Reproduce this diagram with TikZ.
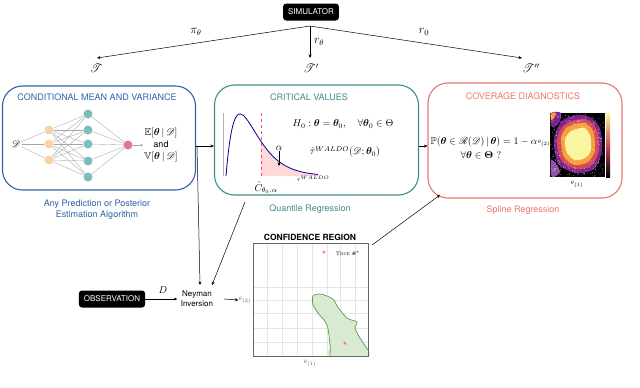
\documentclass[tikz,border=0pt]{standalone}
\usepackage{amsmath,amssymb,mathrsfs,bm}
\usepackage{fontspec}
\setsansfont{TeX Gyre Heros}
\usetikzlibrary{arrows.meta}
\definecolor{cblue}{HTML}{2F63A6}
\definecolor{cteal}{HTML}{3F8C8C}
\definecolor{csalmon}{HTML}{E9766C}
\definecolor{norange}{HTML}{F9D4A3}
\definecolor{nteal}{HTML}{7DBDBA}
\definecolor{npink}{HTML}{D47C98}
\definecolor{rgreen}{HTML}{D8EAD2}
\definecolor{rgreenl}{HTML}{5A9E48}
\definecolor{infY}{HTML}{FCF5A0}
\definecolor{infO}{HTML}{F5A03A}
\definecolor{infR}{HTML}{D4485A}
\definecolor{infP}{HTML}{7A2490}
\definecolor{infD}{HTML}{1A0A30}
\tikzset{
  arr/.style={-{Stealth[length=3.5pt,width=3pt]}, line width=0.5pt},
  blackbox/.style={fill=black, text=white, rounded corners=3pt, font=\sffamily\fontsize{8}{9}\selectfont, inner xsep=5pt, minimum height=17pt},
  bigbox/.style={draw, rounded corners=20pt, line width=1.1pt},
  boxtitle/.style={font=\sffamily\fontsize{9}{10}\selectfont},
  sub/.style={font=\sffamily\fontsize{9}{11}\selectfont, align=center},
  mth/.style={font=\fontsize{10}{11}\selectfont, inner sep=1pt},
  lbl/.style={font=\fontsize{12}{13}\selectfont, inner sep=1pt},
  nn/.style={circle, minimum size=9pt, inner sep=0pt},
  nnl/.style={gray!70, line width=0.35pt},
  grid/.style={gray!20, line width=0.4pt}
}
\begin{document}
\begin{tikzpicture}[x=1pt,y=-1pt]
\useasboundingbox (0,0) rectangle (640,388);
% simulator
\node[blackbox] (sim) at (311,12) {SIMULATOR};
\coordinate (s0) at (310,26);
\node[lbl] (T1) at (96,68) {$\mathscr{T}$};
\node[lbl] (T2) at (311,68) {$\mathscr{T}'$};
\node[lbl] (T3) at (531,68) {$\mathscr{T}''$};
\coordinate (t1) at (97,58);
\coordinate (t2) at (310,58);
\coordinate (t3) at (522,58);
\draw[arr] (s0) -- (t1);
\draw[arr] (s0) -- (t2);
\draw[arr] (s0) -- (t3);
\node[lbl] (pi) at (196,32) {$\pi_\theta$};
\node[lbl] (rt) at (319,42) {$r_\theta$};
\node[lbl] (r0) at (424,32) {$r_0$};

% box 1
\node[bigbox, draw=cblue, minimum width=193pt, minimum height=104pt] (b1) at (99,138) {};
\node[boxtitle, text=cblue] (b1t) at (97,97) {CONDITIONAL MEAN AND VARIANCE};
\node[sub, text=cblue] (b1s) at (97,210) {Any Prediction or Posterior\\Estimation Algorithm};
\node[mth] (D) at (16,144) {$\mathscr{D}$};
\foreach \i/\y in {1/130,2/144,3/160} \node[nn, fill=norange] (i\i) at (49,\y) {};
\foreach \i/\y in {1/114,2/130,3/144,4/161,5/177} \node[nn, fill=nteal] (h\i) at (88,\y) {};
\node[nn, fill=npink] (o) at (128,145) {};
\foreach \i in {1,2,3} {
  \draw[nnl] (D) -- (i\i);
  \foreach \j in {1,...,5} \draw[nnl] (i\i) -- (h\j);
}
\foreach \j in {1,...,5} \draw[nnl] (h\j) -- (o);
\node[mth, align=center] (ev) at (161,145) {$\mathbb{E}[\bm{\theta}\,|\,\mathscr{D}]$\\[1pt]{\sffamily\fontsize{9}{10}\selectfont and}\\[1pt]$\mathbb{V}[\bm{\theta}\,|\,\mathscr{D}]$};
\draw[nnl, -{Stealth[length=2.5pt,width=2.5pt]}] (o) -- (ev.west);

% box 2
\node[bigbox, draw=cteal, minimum width=204pt, minimum height=110pt] (b2) at (316.5,140) {};
\node[boxtitle, text=cteal] (b2t) at (309,97) {CRITICAL VALUES};
\node[sub, text=cteal] (b2s) at (310,209) {Quantile Regression};
\fill[red!15] (261,176) -- plot[domain=261:318, samples=40] (\x, {176-168.5*((\x-226)/14)*exp(-(\x-226)/14)}) -- (318,176) -- cycle;
\draw[gray!60, line width=1pt] (223,113) -- (223,176);
\draw[blue!60!black, line width=0.8pt] plot[domain=226:318, samples=80, smooth] (\x, {176-168.5*((\x-226)/14)*exp(-(\x-226)/14)});
\draw[red!70, dashed, line width=0.6pt] (261,113) -- (261,176);
\node[mth] (al) at (279,148) {$\alpha$};
\coordinate (alt) at (279,166);
\draw[arr] (al) -- (alt);
\node[mth] (C) at (266,188) {$\hat{C}_{\theta_0,\alpha}$};
\node[font=\fontsize{5}{6}\selectfont, inner sep=0pt] (tw) at (313,179) {$\hat{\tau}^{WALDO}$};
\node[mth] (H0) at (343,124) {$H_0:\bm{\theta}=\bm{\theta}_0,\quad\forall\bm{\theta}_0\in\Theta$};
\node[mth] (tau) at (345,152) {$\hat{\tau}^{WALDO}(\mathscr{D};\bm{\theta}_0)$};

% box 3
\node[bigbox, draw=csalmon, minimum width=194pt, minimum height=115pt] (b3) at (525,140.5) {};
\node[boxtitle, text=csalmon] (b3t) at (523,96) {COVERAGE DIAGNOSTICS};
\node[sub, text=csalmon] (b3s) at (523,210) {Spline Regression};
\node[mth] (P) at (484,142) {$\mathbb{P}(\bm{\theta}\in\mathscr{R}(\mathscr{D})\,|\,\bm{\theta})=1-\alpha$};
\node[mth] (fa) at (481,155) {$\forall\bm{\theta}\in\bm{\Theta}$ ?};
% heatmap
\fill[black] (550,113) rectangle (605,177);
\fill[infP] plot[smooth cycle] coordinates {(551,113) (561,113) (559,123) (552,127)};
\fill[infO] plot[smooth cycle] coordinates {(551,113) (556,113) (554,118) (551,120)};
\fill[infP!80] plot[smooth cycle] coordinates {(551,160) (556,164) (560,172) (554,177) (551,175)};
\fill[infP] plot[smooth cycle] coordinates {(563,120) (584,115) (599,126) (602,150) (594,169) (575,173) (558,163) (554,139)};
\fill[infR] plot[smooth cycle] coordinates {(565,124) (584,119) (596,128) (599,150) (591,166) (575,169) (561,160) (557,139)};
\fill[infO] plot[smooth cycle] coordinates {(567,127) (584,123) (593,131) (595,150) (588,162) (575,165) (564,157) (561,139)};
\fill[infY] plot[smooth cycle] coordinates {(571,131) (584,128) (590,135) (591,150) (585,158) (575,160) (567,153) (565,140)};
\pgfmathsetseed{7}
\foreach \k in {1,...,320} {
  \pgfmathsetmacro\rx{550.5+54*rnd}
  \pgfmathsetmacro\ry{113.5+63*rnd}
  \fill[white, opacity=0.7] (\rx,\ry) circle (0.4);
}
\shade[top color=infY, bottom color=black, middle color=infR] (606,113) rectangle (610,177);
\node[font=\fontsize{4}{5}\selectfont, inner sep=0pt] (hy) at (544,143) {$\theta_{(2)}$};
\node[font=\fontsize{4}{5}\selectfont, inner sep=0pt] (hx) at (577,184) {$\theta_{(1)}$};

% connectors between boxes
\coordinate (j1) at (197,146);
\draw[line width=0.5pt] (b1.east |- j1) -- (j1);
\draw[arr] (j1) -- (b2.west |- j1);
\draw[arr] (b2.east |- j1) -- (b3.west |- j1);

% observation and Neyman
\node[blackbox] (obs) at (112,299) {OBSERVATION};
\node[sub, font=\sffamily\fontsize{8}{10}\selectfont] (ney) at (197,299) {Neyman\\Inversion};
\draw[arr] (obs) -- (ney);
\node[mth] (Dl) at (163,290) {$D$};
\coordinate (n1) at (200,285);
\coordinate (n2) at (212,285);
\draw[arr] (j1) -- (n1);
\coordinate (b2b) at (245,202);
\draw[arr] (b2b) -- (n2);

% confidence region
\node[font=\sffamily\bfseries\fontsize{8.5}{10}\selectfont] (crt) at (310,237) {CONFIDENCE REGION};
\foreach \gx in {267,282,297,312,327,340,355} \draw[grid] (\gx,243) -- (\gx,356);
\foreach \gy in {287,300,313,328,342} \draw[grid] (253,\gy) -- (368,\gy);
\fill[rgreen] plot[smooth cycle, tension=0.5] coordinates {(313,296) (320,294) (327,296) (334,300) (337,306) (347,318) (357,322) (355,328) (360,338) (368,350) (368,356) (330,356) (330,345) (327,325) (318,313) (313,305)};
\draw[rgreenl, line width=0.7pt] plot[smooth, tension=0.5] coordinates {(368,350) (360,338) (355,328) (357,322) (347,318) (337,306) (334,300) (327,296) (320,294) (313,296) (313,305) (318,313) (327,325) (330,345) (330,356)};
\node[draw=gray!80!black, line width=0.8pt, minimum width=115pt, minimum height=113pt, inner sep=0pt] (cr) at (310.5,299.5) {};
\node[text=red!75, font=\fontsize{8}{8}\selectfont, inner sep=0pt] (st1) at (324,253) {$\star$};
\node[font=\fontsize{5.5}{6}\selectfont, inner sep=0pt] (tl) at (348,253) {\textsc{True} $\bm{\theta}^*$};
\node[text=red!75, font=\fontsize{8}{8}\selectfont, inner sep=0pt] (st2) at (345,344) {$\star$};
\node[font=\fontsize{5}{6}\selectfont, inner sep=0pt, text=gray!70!black] (cy) at (245,300) {$\theta_{(2)}$};
\node[font=\fontsize{5}{6}\selectfont, inner sep=0pt, text=gray!70!black] (cx) at (310,363) {$\theta_{(1)}$};
\coordinate (ne) at (224,299);
\draw[arr] (ne) -- (cy.west);
\coordinate (c3) at (372,245);
\coordinate (b3c) at (440,195);
\draw[arr] (c3) -- (b3c);
\end{tikzpicture}
\end{document}
